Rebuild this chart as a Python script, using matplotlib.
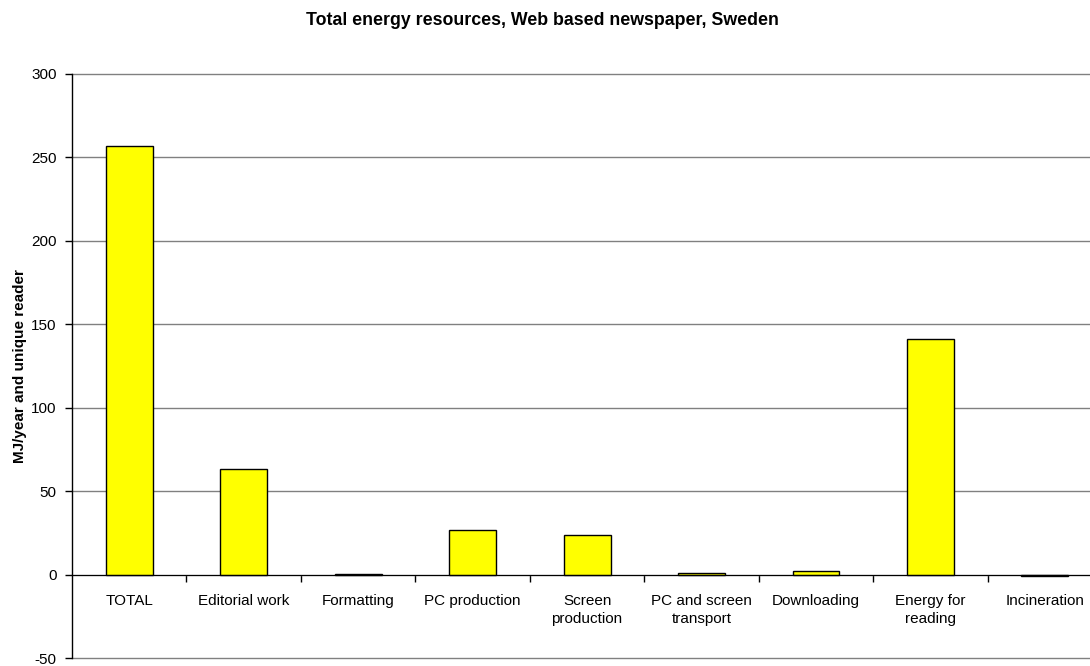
import numpy as np
import matplotlib.pyplot as plt
from matplotlib.ticker import FixedLocator

# Data
categories = ['TOTAL', 'Editorial work', 'Formatting', 'PC production',
              'Screen\nproduction', 'PC and screen\ntransport', 'Downloading',
              'Energy for\nreading', 'Incineration']
values = [257, 63, 0.4, 26.7, 23.5, 0.7, 2.4, 141, -0.8]
y_ticks = [-50, 0, 50, 100, 150, 200, 250, 300]

plt.rcParams['font.family'] = ['Liberation Sans', 'DejaVu Sans']
plt.rcParams['axes.unicode_minus'] = False

fig = plt.figure(figsize=(10.9, 6.66), dpi=100)
ax = fig.add_axes([0.0661, 0.012, 0.945, 0.877])

x = np.arange(len(categories))
ax.bar(x, values, width=0.41, color='#ffff00', edgecolor='black', linewidth=1, zorder=3)

ax.set_xlim(-0.5, len(categories) - 0.5)
ax.set_ylim(-50, 300)
ax.set_yticks(y_ticks)
ax.yaxis.grid(True, color='#808080', linewidth=1)
for gl in ax.get_ygridlines():
    gl.set_clip_on(False)
ax.set_axisbelow(True)

for s in ['top', 'right']:
    ax.spines[s].set_visible(False)
ax.spines['bottom'].set_position(('data', 0))
ax.spines['bottom'].set_zorder(4)
ax.spines['left'].set_linewidth(1)

ax.set_xticks(x)
ax.set_xticklabels(categories, fontsize=11, linespacing=1.35, va='top')
ax.tick_params(axis='x', which='major', length=0, pad=14)
ax.xaxis.set_minor_locator(FixedLocator(x[:-1] + 0.5))
ax.tick_params(axis='x', which='minor', length=5, direction='out', width=1)
ax.tick_params(axis='y', length=5, direction='out', labelsize=11, width=1, pad=6)

ax.set_ylabel('MJ/year and unique reader', fontsize=11, fontweight='bold')
ax.yaxis.set_label_coords(-0.0505, 0.5)
ax.yaxis.label.set_va('center')
fig.suptitle('Total energy resources, Web based newspaper, Sweden',
             fontsize=12.8, fontweight='bold', x=0.498, y=0.982)

fig.savefig('out.png', dpi=100)
